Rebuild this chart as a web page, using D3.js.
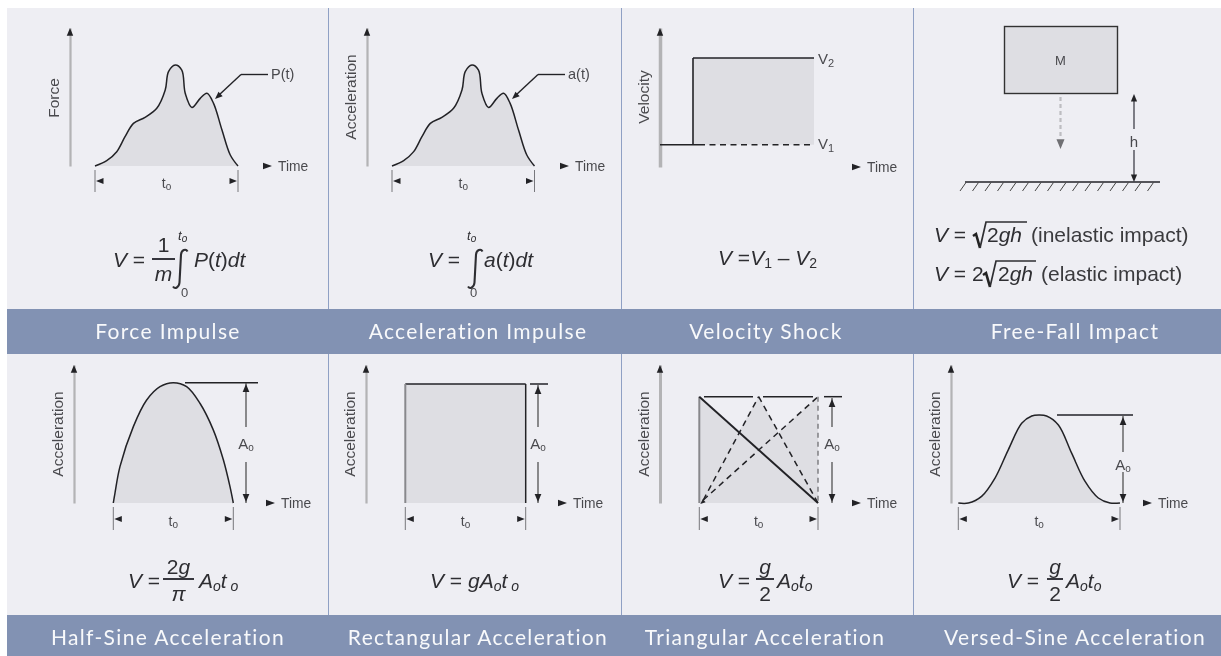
<!DOCTYPE html>
<html><head><meta charset="utf-8">
<script src="https://cdn.jsdelivr.net/npm/d3@7/dist/d3.min.js"></script>
<style>html,body{margin:0;padding:0;background:#fff;overflow:hidden}svg{display:block}</style>
</head><body><svg id="c" width="1221" height="656"></svg>
<script>
// ---- data ----
const titlesTop = ["Force Impulse","Acceleration Impulse","Velocity Shock","Free-Fall Impact"];
const titlesBottom = ["Half-Sine Acceleration","Rectangular Acceleration","Triangular Acceleration","Versed-Sine Acceleration"];
const pulseTime = [0,.082,.152,.21,.269,.35,.432,.491,.514,.561,.607,.631,.678,.736,.783,.829,.888,.946,1];
const pulseAmp  = [0,.053,.142,.29,.422,.482,.571,.752,.934,1,.95,.72,.58,.67,.72,.62,.356,.109,0];
const halfSineTime = [0,.014,.056,.167,.278,.389,.5,.611,.722,.833,.917,.972,1];
const halfSineAmp  = [0,.083,.304,.635,.856,.967,1,.967,.829,.608,.359,.138,0];
const versedTime = [0,.062,.144,.227,.309,.392,.454,.499,.546,.619,.701,.784,.866,.938,1];
const versedAmp  = [0,0,.075,.283,.604,.906,.989,1,.989,.887,.566,.245,.057,0,0];
const rectTime = [0,1];
const rectAmp = [1,1];
const triPeaks = [0,.5,1];
const triSolidPeak = 0;
const triHullTime = [0,0,.333,.5,.667,1,1];
const triHullAmp  = [0,1,.667,1,.667,1,0];
const velocityLevels = [0,1];
const velocityStep = .0;

// ---- layout and style ----
const BG="#eeeef3",BAR="#8292b3",FILL="#dedee3",AXIS="#b3b3b5",INK="#222226",TXT="#4a4a4e",DIV="#8fa0c4";
const SANS="'Liberation Sans',Arial,sans-serif";
const svg=d3.select("#c");
const defs=svg.append("defs");
defs.append("filter").attr("id","soft").attr("x","-5%").attr("y","-5%").attr("width","110%").attr("height","110%")
  .append("feGaussianBlur").attr("stdDeviation",.5);

svg.append("rect").attr("x",7).attr("y",8).attr("width",1214).attr("height",648).attr("fill",BG);
const colDiv=[328,621,913];
colDiv.forEach(x=>[[8,309],[354,615]].forEach(([a,b])=>svg.append("line").attr("x1",x+.5).attr("x2",x+.5).attr("y1",a).attr("y2",b).attr("stroke",DIV).attr("stroke-width",1)));
svg.append("rect").attr("x",7).attr("y",309).attr("width",1214).attr("height",45).attr("fill",BAR);
svg.append("rect").attr("x",7).attr("y",615).attr("width",1214).attr("height",41).attr("fill",BAR);

const titleCx=[168,478,766,1075], titleCx2=[168,478,765,1075];
const titleG=svg.append("g").attr("filter","url(#soft)");
const addTitles=(list,cx,y)=>titleG.selectAll(null).data(list).enter().append("text")
  .attr("x",(d,i)=>cx[i]).attr("y",y).attr("text-anchor","middle")
  .attr("font-family","Lato,'Open Sans',sans-serif").attr("font-size",21).attr("letter-spacing",1.35)
  .attr("fill","#f8f9fb").text(d=>d);
addTitles(titlesTop,titleCx,339);
addTitles(titlesBottom,titleCx2,645);

const g=svg.append("g").attr("filter","url(#soft)");

function head(x,y,dir,size=5,col=INK){
  const a={up:0,down:180,left:270,right:90}[dir]??dir;
  g.append("path").attr("d",`M0,0L${size*.62},${size*1.5}L${-size*.62},${size*1.5}Z`)
   .attr("fill",col).attr("transform",`translate(${x},${y}) rotate(${a})`);
}
function seg(x1,y1,x2,y2,o={}){
  return g.append("line").attr("x1",x1).attr("y1",y1).attr("x2",x2).attr("y2",y2)
   .attr("stroke",o.c||INK).attr("stroke-width",o.w||1.4).attr("stroke-dasharray",o.dash||null);
}
function label(x,y,t,o={}){
  return g.append("text").attr("x",x).attr("y",y).attr("font-family",SANS).attr("font-size",o.s||14)
   .attr("fill",o.c||TXT).attr("text-anchor",o.a||"start").text(t);
}
function rich(x,y,parts,o={}){
  const t=g.append("text").attr("x",x).attr("y",y).attr("font-family",SANS).attr("font-size",o.s||21).attr("fill",o.c||"#2e2e32").attr("text-anchor",o.a||"start");
  let base=true;
  parts.forEach(([s,k])=>{
    const sp=t.append("tspan").text(s);
    const sub=k.includes("sub");
    if(k.includes("i")) sp.attr("font-style","italic");
    if(sub){sp.attr("font-size",o.sub||14);}
    if(sub&&base){sp.attr("dy",o.d||4);base=false;}
    else if(!sub&&!base){sp.attr("dy",-(o.d||4));base=true;}
  });
}
function yAxis(p){
  const s=d3.scaleLinear([0,1],[p.base,p.axisTop]);
  const ax=g.append("g").attr("transform",`translate(${p.axisX},0)`).call(d3.axisLeft(s).tickValues([]).tickSizeOuter(0));
  ax.select(".domain").attr("stroke",AXIS).attr("stroke-width",p.axisW||2.2);
  head(p.axisX,p.axisTop,"up",5.2);
  g.append("text").attr("transform",`translate(${p.labelX},${p.labelY}) rotate(-90)`)
   .attr("text-anchor","middle").attr("font-family",SANS).attr("font-size",15.5).attr("fill",TXT).text(p.yLabel);
}
function timeLabel(p){
  const ty=p.timeY||p.base;
  g.append("path").attr("d",`M${p.timeX},${ty-3.2}L${p.timeX+9},${ty}L${p.timeX},${ty+3.2}Z`).attr("fill",INK);
  label(p.timeX+15,ty+5,"Time",{s:13.8});
}
function dims(p,x,ya,yb,ym){
  seg(x(0),ya,x(0),yb,{c:"#77777b",w:1});
  seg(x(1),ya,x(1),yb,{c:"#77777b",w:1});
  head(x(0)+1,ym,"left",5); head(x(1)-1,ym,"right",5);
  rich((x(0)+x(1))/2,yb-4,[["t","r"],["o","subr"]],{s:14,sub:10,a:"middle",c:TXT,d:2});
}
function curve(p,times,amps){
  const x=d3.scaleLinear([0,1],[p.x0,p.x1]), y=d3.scaleLinear([0,1],[p.base,p.top]);
  const pts=times.map((t,i)=>[t,amps[i]]);
  const cv=d3.curveCatmullRom.alpha(.5);
  g.append("path").attr("d",d3.area().x(d=>x(d[0])).y0(p.base).y1(d=>y(d[1])).curve(cv)(pts)).attr("fill",FILL);
  g.append("path").attr("d",d3.line().x(d=>x(d[0])).y(d=>y(d[1])).curve(cv)(pts)).attr("fill","none").attr("stroke",INK).attr("stroke-width",1.5);
  return {x,y};
}
function ampArrow(ax,top,base,g1,g2,ly){
  seg(ax,top,ax,g1,{c:"#444",w:1.2}); seg(ax,g2,ax,base,{c:"#444",w:1.2});
  head(ax,top+1,"up",5.4); head(ax,base-1,"down",5.4);
  rich(ax,ly,[["A","r"],["o","subr"]],{s:15,sub:10,a:"middle",c:TXT,d:2});
}
function integral(x,y,h){
  g.append("path").attr("d",`M${x-7},${y+h/2-1}c2,3 6,1 6.5,-4L${x+1},${y-h/2+4}c.5,-5 5,-6 6.5,-3`).attr("fill","none").attr("stroke","#2e2e32").attr("stroke-width",2.1);
}
function frac(x1,x2,y,num,den,ny,dy){
  seg(x1,y,x2,y,{w:1.9,c:"#2e2e32"});
  rich((x1+x2)/2,ny,num,{a:"middle"}); rich((x1+x2)/2,dy,den,{a:"middle"});
}

// Force impulse
let p={x0:95,x1:238,base:166,top:65,axisX:70,axisTop:28,labelX:59,labelY:98,yLabel:"Force",timeX:263};
yAxis(p); timeLabel(p); let s=curve(p,pulseTime,pulseAmp); dims(p,s.x,170,192,181);
seg(268,74.5,241,74.5); seg(241,74.5,219,95); head(215,99,-132,5);
label(271,79,"P(t)",{s:14.5});
rich(113,267,[["V","i"],[" =","r"]]);
frac(152,175,259,[["1","r"]],[["m","i"]],252,281);
integral(180,269,37);
rich(178,240,[["t","i"],["o","isub"]],{s:13,sub:10,d:2});
label(181,297,"0",{s:13});
rich(194,267,[["P","i"],["(","r"],["t","i"],[")","r"],["dt","i"]]);

// Acceleration impulse
p={x0:392,x1:534.5,base:166,top:65,axisX:367,axisTop:28,labelX:356,labelY:97,yLabel:"Acceleration",timeX:560};
yAxis(p); timeLabel(p); s=curve(p,pulseTime,pulseAmp); dims(p,s.x,170,192,181);
seg(565,74.5,538,74.5); seg(538,74.5,516,95); head(512,99,-132,5);
label(568,79,"a(t)",{s:14.5});
rich(428,267,[["V","i"],[" =","r"]]);
integral(475,269,37);
rich(467,240,[["t","i"],["o","isub"]],{s:13,sub:10,d:2});
label(470,297,"0",{s:13});
rich(484,267,[["a","i"],["(","r"],["t","i"],[")","r"],["dt","i"]]);

// Velocity shock
p={x0:693,x1:814,base:144.7,top:58,axisX:660,axisTop:28,axisW:3.5,labelX:649,labelY:97,yLabel:"Velocity",timeX:852,timeY:167};
{
  const ax={...p,base:167}; yAxis(ax); timeLabel(p);
  const x=d3.scaleLinear([0,1],[p.x0,p.x1]), y=d3.scaleLinear([0,1],[p.base,p.top]);
  g.append("rect").attr("x",x(velocityStep)).attr("y",y(velocityLevels[1])).attr("width",x(1)-x(velocityStep)).attr("height",y(velocityLevels[0])-y(velocityLevels[1])).attr("fill",FILL);
  seg(p.axisX,y(0),x(0)+6,y(0),{w:1.6}); seg(x(0),y(0),x(0),y(1),{w:1.6}); seg(x(0),y(1),x(1),y(1),{w:1.6});
  seg(x(0)+6,y(0),x(1),y(0),{w:1.4,dash:"6 4.5"});
  rich(818,64,[["V","r"],["2","subr"]],{s:15,sub:11,c:TXT,d:3});
  rich(818,149,[["V","r"],["1","subr"]],{s:15,sub:11,c:TXT,d:3});
}
rich(718,265,[["V","i"],[" =","r"],["V","i"],["1","subr"],[" – ","r"],["V","i"],["2","subr"]],{d:3});

// Free-fall impact
g.append("rect").attr("x",1004.5).attr("y",26.5).attr("width",113).attr("height",67).attr("fill",FILL).attr("stroke","#333").attr("stroke-width",1.4);
label(1060.5,65,"M",{s:13,a:"middle"});
seg(1060.5,97,1060.5,137,{c:"#bdbdc1",w:2.2,dash:"4 3"});
head(1060.5,149,"down",6.5,"#6f6f73");
seg(1134,100,1134,129,{w:1.1}); seg(1134,150,1134,176,{w:1.1});
head(1134,94,"up",5); head(1134,182,"down",5);
label(1134,147,"h",{s:15,a:"middle"});
seg(965,182,1160,182,{w:1.6});
d3.range(16).forEach(i=>seg(966+i*12.5,182.5,960+i*12.5,191,{w:1,c:"#444"}));
function radical(x,y,w){
  g.append("path").attr("d",`M${x},${y-5}l3,-2l4,14`).attr("fill","none").attr("stroke","#222").attr("stroke-width",2.6);
  g.append("path").attr("d",`M${x+7},${y+7}l6,-26h${w}`).attr("fill","none").attr("stroke","#2e2e32").attr("stroke-width",1.7);
}
rich(934,242,[["V","i"],[" =","r"]]);
radical(973,241,41);
rich(987,242,[["2","r"],["gh","i"]]);
rich(1031,242,[["(inelastic impact)","r"]],{s:21,c:"#3a3a3e"});
rich(934,281,[["V","i"],[" =","r"],[" 2","r"]]);
radical(983,280,40);
rich(998,281,[["2","r"],["gh","i"]]);
rich(1041,281,[["(elastic impact)","r"]],{s:21,c:"#3a3a3e"});

// Half-sine
p={x0:113.3,x1:233.3,base:503,top:382.7,axisX:74,axisTop:365,labelX:63,labelY:434,yLabel:"Acceleration",timeX:266};
yAxis(p); timeLabel(p); s=curve(p,halfSineTime,halfSineAmp); dims(p,s.x,507,530,519);
seg(185,382.7,258,382.7,{w:1.5}); ampArrow(246,383,503,427,462,449);
rich(128,588,[["V","i"],[" =","r"]]);
frac(163,194,579,[["2","r"],["g","i"]],[["π","i"]],574,601);
rich(199,588,[["A","i"],["o","isub"],["t","i"],[" o","isub"]],{d:3});

// Rectangular
p={x0:405.3,x1:525.7,base:503,top:384,axisX:366,axisTop:365,labelX:355,labelY:434,yLabel:"Acceleration",timeX:558};
yAxis(p); timeLabel(p);
{
  const x=d3.scaleLinear([0,1],[p.x0,p.x1]), y=d3.scaleLinear([0,1],[p.base,p.top]);
  g.append("rect").attr("x",x(rectTime[0])).attr("y",y(rectAmp[0])).attr("width",x(rectTime[1])-x(rectTime[0])).attr("height",y(0)-y(1)).attr("fill",FILL);
  seg(x(0),y(1),x(1),y(1),{w:1.5}); seg(x(1),y(1),x(1),y(0),{w:1.5}); seg(x(0),y(1),x(0),y(0),{w:2,c:"#88888c"});
  dims(p,x,507,530,519);
}
seg(530,384,548,384,{w:1.5}); ampArrow(538,385,503,427,462,449);
rich(430,588,[["V","i"],[" = ","r"],["g","i"],["A","i"],["o","isub"],["t","i"],[" o","isub"]],{d:3});

// Triangular
p={x0:699.3,x1:818,base:503,top:396.7,axisX:660,axisTop:365,axisW:3,labelX:649,labelY:434,yLabel:"Acceleration",timeX:852};
yAxis(p); timeLabel(p);
{
  const x=d3.scaleLinear([0,1],[p.x0,p.x1]), y=d3.scaleLinear([0,1],[p.base,p.top]);
  g.append("path").attr("d",d3.line().x(d=>x(d)).y((d,i)=>y(triHullAmp[i]))(triHullTime)+"Z").attr("fill",FILL);
  triPeaks.filter(k=>k!==triSolidPeak).forEach(k=>{
    seg(x(0)+4,y(0)-3,x(k),y(1),{dash:"6 4.5",w:1.5});
    if(k<1) seg(x(k),y(1),x(1),y(0),{dash:"6 4.5",w:1.5});
  });
  seg(x(1),y(1),x(1),y(0),{dash:"5 4",c:"#77777b"});
  seg(x(0),y(0),x(0),y(1),{w:2,c:"#88888c"});
  seg(x(0),y(1),x(1),y(0),{w:1.9});
  seg(704,y(1),753,y(1),{w:1.5}); seg(763,y(1),813,y(1),{w:1.5});
  head(x(0)+1,y(0)+1,-130,3.4);
  dims(p,x,507,530,519);
}
seg(824,396.7,842,396.7,{w:1.5}); ampArrow(832,398,503,427,462,449);
rich(718,588,[["V","i"],[" =","r"]]);
frac(756,774,579,[["g","i"]],[["2","r"]],574,601);
rich(777,588,[["A","i"],["o","isub"],["t","i"],["o","isub"]],{d:3});

// Versed-sine
p={x0:958.3,x1:1120,base:503,top:415,axisX:951,axisTop:365,labelX:940,labelY:434,yLabel:"Acceleration",timeX:1143};
yAxis(p); timeLabel(p); s=curve(p,versedTime,versedAmp); dims(p,s.x,507,530,519);
seg(1057,415,1133,415,{w:1.5}); ampArrow(1123,416,503,452,472,470);
rich(1007,588,[["V","i"],[" =","r"]]);
frac(1047,1063,579,[["g","i"]],[["2","r"]],574,601);
rich(1066,588,[["A","i"],["o","isub"],["t","i"],["o","isub"]],{d:3});
</script></body></html>
